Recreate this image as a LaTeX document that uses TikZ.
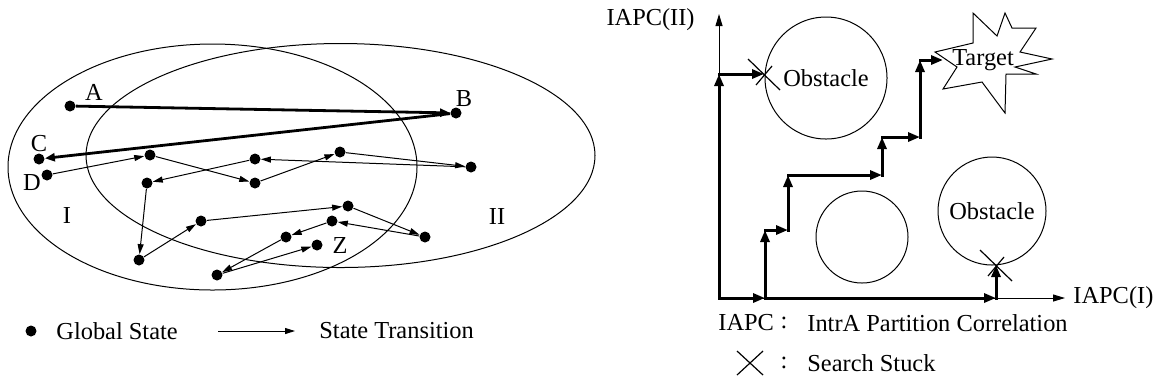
\documentclass[tikz,border=0pt]{standalone}
\usepackage{fontspec}
\setmainfont{Liberation Serif}
\usetikzlibrary{arrows.meta}

\begin{document}
\begin{tikzpicture}[x=0.5pt,y=-0.5pt,font=\fontsize{12.2}{14}\selectfont,
 gstate/.style={circle,fill=black,inner sep=0pt,minimum size=5.5pt},
 trans/.style={-{Triangle[length=5pt,width=3pt]},line width=0.5pt},
 jump/.style={-{Triangle[length=5pt,width=4pt]},line width=1.4pt},
 region/.style={line width=0.5pt},tag/.style={inner sep=0pt},
 obstacle/.style={circle,draw,line width=0.5pt,inner sep=0pt},
 search/.style={-{Triangle[length=6pt,width=4.5pt]},line width=1.5pt,line cap=rect},
 axis/.style={-{Triangle[length=6pt,width=3.5pt]},line width=0.5pt},
 stuck/.style={line width=0.6pt}]
\useasboundingbox (0,0) rectangle (1159,388);
% partitions I and II
\draw[region] (212.5,167) ellipse [x radius=204.5,y radius=123];
\draw[region] (340.5,155.5) ellipse [x radius=254.5,y radius=112];
\node (partI) at (67,215) {I};
\node (partII) at (497,216) {II};
% global states
\node[gstate] (a) at (70,106) {};
\node[gstate] (b) at (456,113) {};
\node[gstate] (c) at (39,159) {};
\node[gstate] (d) at (47,175) {};
\node[gstate] (s1) at (150,155) {};
\node[gstate] (s2) at (255,183) {};
\node[gstate] (s3) at (340,152) {};
\node[gstate] (s4) at (471,167) {};
\node[gstate] (s5) at (255,159) {};
\node[gstate] (s6) at (147,183) {};
\node[gstate] (s7) at (139,260) {};
\node[gstate] (s8) at (201,221) {};
\node[gstate] (s9) at (348,206) {};
\node[gstate] (s10) at (425,237) {};
\node[gstate] (s11) at (332,221) {};
\node[gstate] (s12) at (286,237) {};
\node[gstate] (s13) at (217,275) {};
\node[gstate] (z) at (317,245) {};
\node (labA) at (94,92) {A};
\node (labB) at (464,99) {B};
\node (labC) at (39,144) {C};
\node (labD) at (32,183) {D};
\node (labZ) at (340,245) {Z};
% transitions
\draw[jump] (a)--(b);\draw[jump] (b)--(c);
\draw[trans] (d)--(s1);\draw[trans] (s1)--(s2);\draw[trans] (s2)--(s3);\draw[trans] (s3)--(s4);
\draw[trans] (s4)--(s5);\draw[trans] (s5)--(s6);\draw[trans] (s6)--(s7);\draw[trans] (s7)--(s8);
\draw[trans] (s8)--(s9);\draw[trans] (s9)--(s10);\draw[trans] (s10)--(s11);\draw[trans] (s11)--(s12);
\draw[trans] (s12)--(s13);\draw[trans] (s13)--(z);
% legend left
\node[gstate] (legdot) at (31,331) {};
\node[tag,anchor=west] (legstate) at (56,331) {Global State};
\coordinate (legfrom) at (218,331);\coordinate (legto) at (295,331);
\draw[trans] (legfrom)--(legto);
\node[tag,anchor=west] (legtrans) at (319,331) {State Transition};
% axes
\coordinate (o) at (719,298);
\coordinate (ytop) at (719,14);
\coordinate (xend) at (1065,298);
\draw[axis] (o)--(ytop);\draw[axis] (o)--(xend);
\node[tag,anchor=east] (ylab) at (695,20) {IAPC(II)};
\node[tag,anchor=west] (xlab) at (1073,298) {IAPC(I)};
% obstacles and target
\node[obstacle,minimum size=61pt] (obsA) at (826,78) {Obstacle};
\node[obstacle,minimum size=46pt] (obsB) at (862,237) {};
\node[obstacle,minimum size=54pt] (obsC) at (992,211) {Obstacle};
\draw[region] (935,52)--(973,43)--(973,13)--(997,36)--(1005,13)--(1012,28)--(1036,28)--(1020,52)
 --(1052,59)--(1015,67)--(1036,74)--(1006,74)--(1005,113)--(982,82)--(943,89)--(957,67)--cycle;
\node (target) at (983,60) {Target};
% search paths
\coordinate (up1) at (719,74);\coordinate (stuckA) at (764,74);
\coordinate (s0) at (765,298);\coordinate (turn) at (996,298);\coordinate (stuckB) at (996,265);
\coordinate (r1) at (765,230);\coordinate (r2) at (788,230);\coordinate (r3) at (788,175);
\coordinate (r4) at (882,175);\coordinate (r5) at (882,137);\coordinate (r6) at (920,137);
\coordinate (r7) at (920,60);\coordinate (goal) at (943,60);
\draw[search] (o)--(up1);\draw[search] (up1)--(stuckA);
\draw[search] (o)--(s0);\draw[search] (s0)--(turn);\draw[search] (turn)--(stuckB);
\draw[search] (s0)--(r1);\draw[search] (r1)--(r2);\draw[search] (r2)--(r3);\draw[search] (r3)--(r4);
\draw[search] (r4)--(r5);\draw[search] (r5)--(r6);\draw[search] (r6)--(r7);\draw[search] (r7)--(goal);
% search stuck marks
\draw[stuck] ([shift={(-16,-15)}]stuckA)--([shift={(16,16)}]stuckA);
\draw[stuck] ([shift={(-8,11)}]stuckA)--([shift={(8,-8)}]stuckA);
\draw[stuck] ([shift={(-16,-15)}]stuckB)--([shift={(16,16)}]stuckB);
\draw[stuck] ([shift={(-8,11)}]stuckB)--([shift={(8,-8)}]stuckB);
% legend right
\node[tag,anchor=west] (iapc) at (718,323) {IAPC};
\node (colonA) at (784,323) {:};
\node[tag,anchor=west] (iapctext) at (807,323) {IntrA Partition Correlation};
\coordinate (legstuck) at (750,363);
\draw[stuck] ([shift={(-13,-12)}]legstuck)--([shift={(13,12)}]legstuck);
\draw[stuck] ([shift={(-13,12)}]legstuck)--([shift={(13,-12)}]legstuck);
\node (colonB) at (784,363) {:};
\node[tag,anchor=west] (stucktext) at (807,363) {Search Stuck};
\end{tikzpicture}
\end{document}
